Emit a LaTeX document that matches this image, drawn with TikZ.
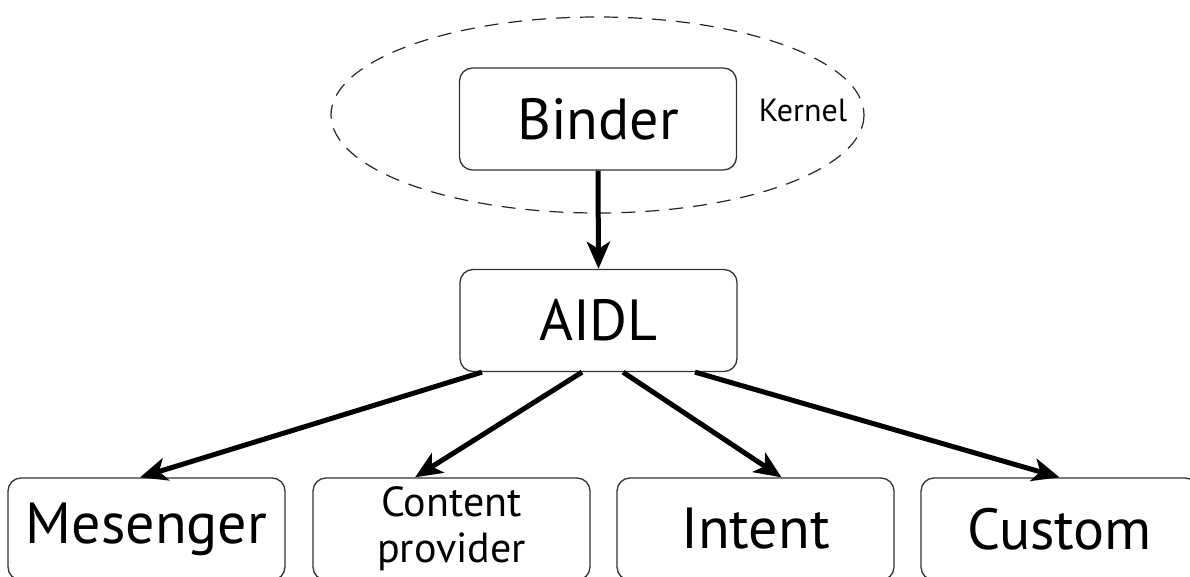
\documentclass[tikz,border=0pt]{standalone}
\usepackage{fontspec}
\setmainfont{PT Sans}
\usetikzlibrary{arrows.meta}
\begin{document}
\begin{tikzpicture}[x=1pt,y=-1pt,
  box/.style={draw=black!80, line width=1.3pt, rounded corners=13pt,
    minimum width=277pt, minimum height=102pt, inner sep=0pt, align=center,
    font=\fontsize{58}{60}\selectfont},
  smallbox/.style={box, font=\fontsize{42}{40}\selectfont},
  arr/.style={line width=5pt, -{Stealth[length=27pt,width=23pt,inset=7pt]}},
  kernelring/.style={draw=black!85, line width=1.2pt, dash pattern=on 14pt off 10pt}]
\useasboundingbox (0,0) rectangle (1190,577);
\clip (0,0) rectangle (1190,577);

% kernel region
\draw[kernelring] (597.5,115) ellipse [x radius=266.5, y radius=98];
\node[font=\fontsize{32}{34}\selectfont] (kernel) at (803,110) {Kernel};

% boxes
\node[box] (binder) at (598,119) {Binder};
\node[box] (aidl) at (598.5,320.5) {AIDL};
\node[box] (mes) at (146.5,529) {Mesenger};
\node[smallbox] (cp) at (451.5,529) {Content\\[6pt]provider};
\node[box] (intent) at (755.5,529) {Intent};
\node[box] (custom) at (1059.5,529) {Custom};

% connectors
\draw[arr] (binder.south) -- (aidl.north);
\draw[arr] ([xshift=-116.5pt]aidl.south) -- ([xshift=-6.5pt]mes.north);
\draw[arr] ([xshift=-16.5pt]aidl.south) -- ([xshift=-36.5pt]cp.north);
\draw[arr] ([xshift=24.5pt]aidl.south) -- ([xshift=26pt]intent.north);
\draw[arr] ([xshift=96.5pt]aidl.south) -- (custom.north);
\end{tikzpicture}
\end{document}
